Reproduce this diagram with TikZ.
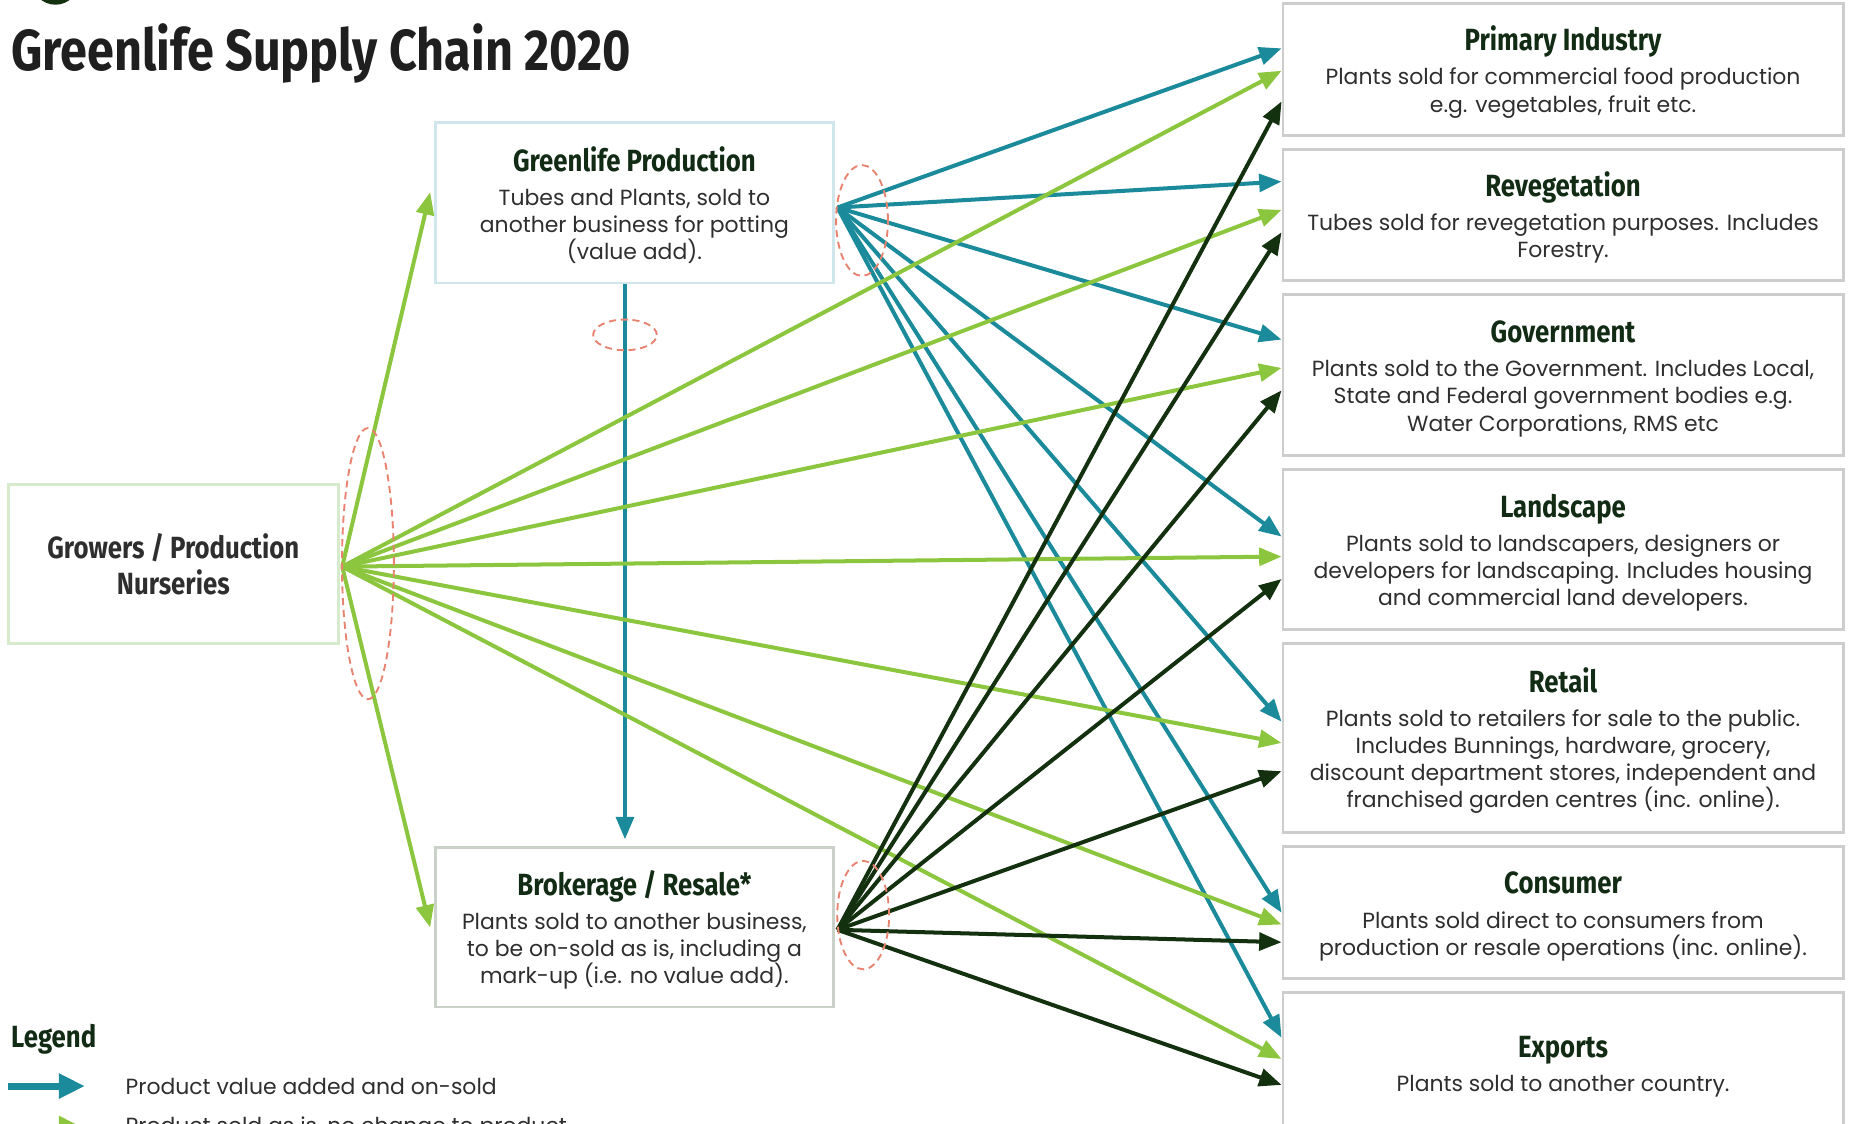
\documentclass[tikz,border=0pt]{standalone}
\usepackage{fontspec}
\setmainfont{Poppins}
\newfontfamily\condfont[FakeStretch=0.84]{Fira Sans}
\usetikzlibrary{arrows.meta, positioning}

\definecolor{tealarr}{HTML}{1B8A9B}
\definecolor{greenarr}{HTML}{8CC63F}
\definecolor{darkarr}{HTML}{13300F}
\definecolor{boxgrey}{HTML}{CDCDCD}
\definecolor{prodline}{HTML}{CFE7EC}
\definecolor{growline}{HTML}{D6EACC}
\definecolor{brokline}{HTML}{C9D1C9}
\definecolor{loupered}{HTML}{E8836F}
\definecolor{headgreen}{HTML}{112B14}
\definecolor{bodygrey}{HTML}{2E2E2E}

\newcommand{\boxtext}{\fontsize{18.6}{23}\selectfont}
\newcommand{\boxhead}{\condfont\bfseries\fontsize{26}{30}\selectfont\color{headgreen}}
\newcommand{\headstrut}{\rule{0pt}{25pt}}

\begin{document}
\begin{tikzpicture}[x=1pt, y=-1pt, node distance=9.6pt,
    box/.style={draw, line width=2.4pt, align=center, inner sep=0pt,
                font=\boxtext, text=bodygrey},
    dest/.style={box, draw=boxgrey, minimum width=475pt},
    tealline/.style={color=tealarr, line width=3.4pt, -{Triangle[length=19pt,width=15pt]}},
    greenline/.style={color=greenarr, line width=3.4pt, -{Triangle[length=19pt,width=15pt]}},
    darkline/.style={color=darkarr, line width=3.4pt, -{Triangle[length=19pt,width=15pt]}},
    loupe/.style={draw=loupered, line width=1.6pt, dash pattern=on 6pt off 4pt}]
  \useasboundingbox (0,0) rectangle (1568,953);
  \clip (0,0) rectangle (1568,953);

  % logo, cut by the page edge
  \fill[darkarr] (47,-16) circle (20pt);

  \node[anchor=base west, font=\condfont\bfseries\fontsize{49}{60}\selectfont,
        text=black!88] (heading) at (6,60) {Greenlife Supply Chain 2020};

  % sources
  \node[box, draw=growline, minimum width=280pt, minimum height=135pt,
        font=\boxhead] (grow) at (147,478.5) {Growers / Production\\Nurseries};
  \node[box, draw=prodline, minimum width=338pt, minimum height=136pt] (prod) at (538,172)
    {{\boxhead\headstrut Greenlife Production}\\[6pt]Tubes and Plants, sold to\\another business for potting\\(value add).};
  \node[box, draw=brokline, minimum width=338pt, minimum height=135pt] (brok) at (538,786.5)
    {{\boxhead\headstrut Brokerage / Resale*}\\[6pt]Plants sold to another business,\\to be on-sold as is, including a\\mark-up (i.e. no value add).};

  % destinations
  \node[dest, minimum height=112pt] (prim) at (1325.5,59)
    {{\boxhead\headstrut Primary Industry}\\[6pt]Plants sold for commercial food production\\e.g. vegetables, fruit etc.};
  \node[dest, minimum height=111pt, below=of prim] (reveg)
    {{\boxhead\headstrut Revegetation}\\[6pt]Tubes sold for revegetation purposes. Includes\\Forestry.};
  \node[dest, minimum height=136pt, below=of reveg] (gov)
    {{\boxhead\headstrut Government}\\[6pt]Plants sold to the Government. Includes Local,\\State and Federal government bodies e.g.\\Water Corporations, RMS etc};
  \node[dest, minimum height=136pt, below=of gov] (land)
    {{\boxhead\headstrut Landscape}\\[6pt]Plants sold to landscapers, designers or\\developers for landscaping. Includes housing\\and commercial land developers.};
  \node[dest, minimum height=160pt, below=of land] (retail)
    {{\boxhead\headstrut Retail}\\[6pt]Plants sold to retailers for sale to the public.\\Includes Bunnings, hardware, grocery,\\discount department stores, independent and\\franchised garden centres (inc. online).};
  \node[dest, minimum height=112pt, below=of retail] (cons)
    {{\boxhead\headstrut Consumer}\\[6pt]Plants sold direct to consumers from\\production or resale operations (inc. online).};
  \node[dest, minimum height=118pt, below=of cons] (exp)
    {{\boxhead\headstrut Exports}\\[6pt]Plants sold to another country.};

  \coordinate (grow_out) at ([xshift=2pt,yshift=-2pt]grow.east);
  \coordinate (prod_out) at ([xshift=2pt,yshift=-4pt]prod.east);
  \coordinate (brok_out) at ([xshift=2pt,yshift=-2pt]brok.east);

  % value added
  \path[tealline]
  (prod_out) edge (prim.west |- 0,41)
             edge (reveg.west |- 0,154)
             edge (gov.west |- 0,288)
             edge (land.west |- 0,455)
             edge (retail.west |- 0,612)
             edge (cons.west |- 0,774)
             edge (exp.west |- 0,880);
  \draw[tealline] ([xshift=-8pt]prod.south) -- ([xshift=-8pt,yshift=6pt]brok.north);

  % sold as is
  \path[greenline]
  (grow_out) edge ([xshift=-3pt,yshift=9pt]prod.west)
             edge ([xshift=-3pt]brok.west)
             edge (prim.west |- 0,60)
             edge (reveg.west |- 0,178)
             edge (gov.west |- 0,312)
             edge (land.west |- 0,472)
             edge (retail.west |- 0,630)
             edge (cons.west |- 0,784)
             edge (exp.west |- 0,898);

  % resale
  \path[darkline]
  (brok_out) edge (prim.west |- 0,86)
             edge (reveg.west |- 0,197)
             edge (gov.west |- 0,331)
             edge (land.west |- 0,491)
             edge (retail.west |- 0,654)
             edge (cons.west |- 0,799)
             edge (exp.west |- 0,920);

  % dashed loupes
  \draw[loupe] (312,478) ellipse [x radius=22pt, y radius=115pt];
  \draw[loupe] (731,187) ellipse [x radius=22pt, y radius=47pt];
  \draw[loupe] (732,776) ellipse [x radius=22pt, y radius=46pt];
  \draw[loupe] (530,284) ellipse [x radius=27pt, y radius=13pt];

  % legend
  \node[anchor=base west, font=\boxhead] (legend) at (6,888) {Legend};
  \coordinate (key_a) at (7,921);
  \coordinate (key_b) at (7,957);
  \draw[draw=tealarr, line width=6pt, -{Triangle[length=22pt,width=20pt]}] (key_a) -- ++(65,0);
  \draw[draw=greenarr, line width=6pt, -{Triangle[length=22pt,width=20pt]}] (key_b) -- ++(65,0);
  \node[anchor=west, font=\boxtext, text=bodygrey] (key_a_txt) at (103,921) {Product value added and on-sold};
  \node[anchor=west, font=\boxtext, text=bodygrey] (key_b_txt) at (103,957) {Product sold as is, no change to product};
\end{tikzpicture}
\end{document}
